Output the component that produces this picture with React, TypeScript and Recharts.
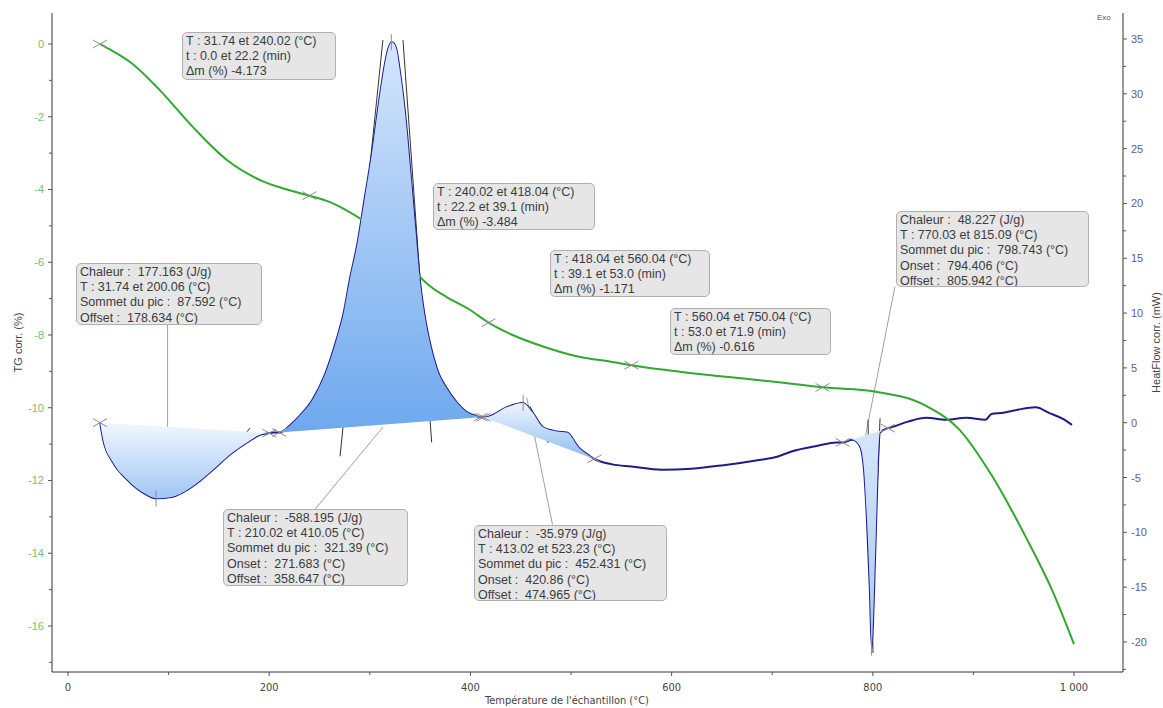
import React from "react";
import {
  ComposedChart,
  Line,
  Scatter,
  XAxis,
  YAxis,
  ReferenceLine,
} from "recharts";

// TG curve (green, left axis, %)
const tgTemp = [32, 45, 62, 91, 124, 158, 191, 215, 240, 260, 293, 310, 327, 340, 350, 362, 376, 399, 418, 442, 476, 508, 541, 560, 600, 654, 700, 750, 803, 853, 886, 918, 952, 978, 1000];
const tgMass = [0, -0.2, -0.5, -1.26, -2.28, -3.19, -3.74, -3.98, -4.17, -4.34, -4.84, -5.15, -5.58, -6.0, -6.4, -6.7, -6.95, -7.3, -7.66, -8.0, -8.35, -8.6, -8.74, -8.83, -8.98, -9.15, -9.28, -9.44, -9.56, -9.95, -10.6, -11.85, -13.55, -15.0, -16.5];

// heat flow curve (blue, right axis, mW)
const hfTemp = [32, 35, 45, 59, 75, 88, 104, 124, 144, 161, 178, 191, 200, 204, 210, 220, 230, 243, 255, 267, 274, 280, 288, 295, 302, 308, 314, 318, 322, 326, 330, 335, 340, 345, 350, 355, 360, 368, 376, 386, 396, 406, 410, 413, 418, 436, 452, 462, 472, 486, 496, 508, 515, 523, 541, 560, 590, 620, 650, 687, 705, 720, 745, 764, 770, 780, 787, 791, 794, 797, 799, 801, 803, 805, 807, 815, 819, 835, 853, 873, 893, 912, 918, 930, 945, 962, 975, 990, 998];
const hfPower = [0, -1.55, -3.65, -5.2, -6.4, -6.9, -6.75, -5.8, -4.3, -2.9, -1.8, -1.1, -0.95, -0.9, -0.9, -0.3, 0.6, 2.1, 4.3, 7.6, 10.0, 13.0, 16.5, 20.5, 24.5, 28.5, 32.2, 34.0, 34.7, 34.2, 32.0, 28.3, 23.3, 18.0, 12.8, 9.5, 7.2, 4.6, 3.2, 1.9, 1.0, 0.6, 0.5, 0.5, 0.55, 1.4, 1.8, 0.9, -0.4, -0.8, -0.9, -2.3, -2.8, -3.3, -3.8, -4.0, -4.3, -4.2, -3.9, -3.4, -3.1, -2.6, -2.1, -1.8, -1.8, -1.55, -2.1, -4.0, -8.5, -15, -20.5, -16, -10, -4, -0.9, -0.5, -0.4, 0.1, 0.45, 0.27, 0.45, 0.27, 0.8, 0.9, 1.2, 1.4, 0.9, 0.3, -0.2];

// integration windows (°C)
const peakStart = [31.74, 210.02, 413.02, 770.03];
const peakEnd = [200.06, 410.05, 523.23, 815.09];
const peakFill = ["dipFill", "peakFill", "smallFill", "spikeFill"];

// markers
const tgMarkT = [31.74, 240.02, 418.04, 560.04, 750.04];
const tgMarkV = [0, -4.17, -7.66, -8.83, -9.44];
const hfMarkT = [31.74, 200.06, 210.02, 410.05, 413.02, 523.23, 770.03, 815.09];
const hfMarkV = [0, -0.95, -0.9, 0.5, 0.5, -3.3, -1.8, -0.5];
const hfTopT = [87.59, 321.39, 452.43, 798.74];
const hfTopV = [-6.9, 34.7, 1.8, -20.5];

// leader lines (box -> peak) and tangents, heat-flow units
const leaderSegs = [
  [[99, 9.1], [99, -0.4]],
  [[246, -7.85], [313, -0.4]],
  [[481.6, -9.3], [456, 2.3]],
  [[822, 12.4], [792, -1.55]],
];
const tangentSegs = [
  [[270.4, -3.07], [313, 34.9]],
  [[361.5, -1.8], [333, 34.9]],
  [[459.2, 1.5], [477.4, -1.85]],
  [[161, -2.77], [181, -0.48]],
  [[795.2, 0.27], [800.2, -21]],
  [[807.2, 0.4], [803.5, -8]],
];

// ticks
const tempTicks = [0, 100, 200, 300, 400, 500, 600, 700, 800, 900, 1000];
const tgTicks = [0, -1, -2, -3, -4, -5, -6, -7, -8, -9, -10, -11, -12, -13, -14, -15, -16, -17];
const hfTicks = [35, 32.5, 30, 27.5, 25, 22.5, 20, 17.5, 15, 12.5, 10, 7.5, 5, 2.5, 0, -2.5, -5, -7.5, -10, -12.5, -15, -17.5, -20, -22.5];

// annotation texts
const boxTexts = [
  ["T : 31.74 et 240.02 (°C)", "t : 0.0 et 22.2 (min)", "Δm (%) -4.173"],
  ["T : 240.02 et 418.04 (°C)", "t : 22.2 et 39.1 (min)", "Δm (%) -3.484"],
  ["T : 418.04 et 560.04 (°C)", "t : 39.1 et 53.0 (min)", "Δm (%) -1.171"],
  ["T : 560.04 et 750.04 (°C)", "t : 53.0 et 71.9 (min)", "Δm (%) -0.616"],
  ["Chaleur :  177.163 (J/g)", "T : 31.74 et 200.06 (°C)", "Sommet du pic :  87.592 (°C)", "Offset :  178.634 (°C)"],
  ["Chaleur :  -588.195 (J/g)", "T : 210.02 et 410.05 (°C)", "Sommet du pic :  321.39 (°C)", "Onset :  271.683 (°C)", "Offset :  358.647 (°C)"],
  ["Chaleur :  -35.979 (J/g)", "T : 413.02 et 523.23 (°C)", "Sommet du pic :  452.431 (°C)", "Onset :  420.86 (°C)", "Offset :  474.965 (°C)"],
  ["Chaleur :  48.227 (J/g)", "T : 770.03 et 815.09 (°C)", "Sommet du pic :  798.743 (°C)", "Onset :  794.406 (°C)", "Offset :  805.942 (°C)"],
];
const boxPos = [
  [182, 32, 154, 48],
  [433, 183, 162, 47],
  [550, 250, 160, 47],
  [670, 308, 161, 47],
  [76, 263, 186, 62],
  [223, 509, 185, 77],
  [474, 525, 193, 76],
  [896, 211, 193, 76],
];

const tgData = tgTemp.map((t, i) => ({ t, v: tgMass[i] }));
const hfData = hfTemp.map((t, i) => ({ t, v: hfPower[i] }));
const fillSegs = peakStart.map((s, i) =>
  hfData.filter((d) => d.t >= s - 1 && d.t <= peakEnd[i] + 1)
);
const tgMarks = tgMarkT.map((t, i) => ({ t, v: tgMarkV[i] }));
const hfMarks = hfMarkT.map((t, i) => ({ t, v: hfMarkV[i] }));
const hfTops = hfTopT.map((t, i) => ({ t, v: hfTopV[i] }));

const sans = "'Liberation Sans', Arial, sans-serif";
const narrow = "'Liberation Sans Narrow', 'DejaVu Sans Condensed', Arial, sans-serif";

const LeftTick = ({ x, y, payload }: any) => {
  const major = payload.value % 2 === 0;
  const ax = x + 7;
  return (
    <g>
      <line x1={ax - (major ? 4 : 3)} x2={ax} y1={y} y2={y} stroke="#555" />
      {major && (
        <text x={x - 1} y={y + 4} textAnchor="end" fill="#74c070" fontSize={11} fontFamily={sans}>
          {payload.value}
        </text>
      )}
    </g>
  );
};

const RightTick = ({ x, y, payload }: any) => {
  const major = payload.value % 5 === 0;
  const ax = x - 7;
  return (
    <g>
      <line x1={ax} x2={ax + (major ? 4 : 3)} y1={y} y2={y} stroke="#555" />
      {major && (
        <text x={x + 1} y={y + 4} textAnchor="start" fill="#5c5c98" fontSize={11} fontFamily={sans}>
          {payload.value}
        </text>
      )}
    </g>
  );
};

const BottomTick = ({ x, y, payload }: any) => {
  const major = payload.value % 200 === 0;
  const ay = y - 6;
  const label = payload.value >= 1000 ? "1 000" : String(payload.value);
  return (
    <g>
      <line x1={x} x2={x} y1={ay} y2={ay + (major ? 4 : 3)} stroke="#555" />
      {major && (
        <text x={x} y={y + 13} textAnchor="middle" fill="#444" fontSize={11} fontFamily={narrow}>
          {label}
        </text>
      )}
    </g>
  );
};

const Cross = ({ cx, cy }: any) => (
  <g stroke="#8c8c8c" strokeWidth={1}>
    <line x1={cx - 7} y1={cy - 4} x2={cx + 7} y2={cy + 4} />
    <line x1={cx - 7} y1={cy + 4} x2={cx + 7} y2={cy - 4} />
  </g>
);
const VTick = ({ cx, cy }: any) => (
  <line x1={cx} x2={cx} y1={cy - 8} y2={cy + 8} stroke="#8c8c8c" />
);
const Empty = () => <g />;

const leftTitle = ({ viewBox }: any) => {
  const cx = (viewBox?.x ?? 8) + 10;
  const cy = (viewBox?.y ?? 13) + (viewBox?.height ?? 659) / 2;
  return (
    <text x={cx} y={cy} transform={`rotate(-90 ${cx} ${cy})`} textAnchor="middle" dominantBaseline="central" fontSize={11} fill="#444" fontFamily={sans}>
      TG corr. (%)
    </text>
  );
};
const rightTitle = ({ viewBox }: any) => {
  const cx = (viewBox?.x ?? 1123) + 33;
  const cy = (viewBox?.y ?? 13) + (viewBox?.height ?? 659) / 2;
  return (
    <text x={cx} y={cy} transform={`rotate(-90 ${cx} ${cy})`} textAnchor="middle" dominantBaseline="central" fontSize={11} fill="#444" fontFamily={sans}>
      HeatFlow corr. (mW)
    </text>
  );
};
const bottomTitle = ({ viewBox }: any) => {
  const cx = (viewBox?.x ?? 52) + 515;
  const cy = (viewBox?.y ?? 672) + 32;
  return (
    <text x={cx} y={cy} textAnchor="middle" fontSize={11} fill="#444" fontFamily={narrow}>
      Température de l'échantillon (°C)
    </text>
  );
};

export default function App() {
  return (
    <div style={{ position: "absolute", left: 0, top: 0, width: 1163, height: 708, background: "#fff" }}>
      <ComposedChart width={1163} height={708} margin={{ top: 13, right: 4, bottom: 6, left: 8 }}>
        <defs>
          <linearGradient id="dipFill" x1="0" y1="0" x2="0" y2="1">
            <stop offset="0%" stopColor="#f2f7fe" />
            <stop offset="100%" stopColor="#a0c6f3" />
          </linearGradient>
          <linearGradient id="peakFill" x1="0" y1="0" x2="0" y2="1">
            <stop offset="0%" stopColor="#d4e6fb" />
            <stop offset="100%" stopColor="#6ea8ee" />
          </linearGradient>
          <linearGradient id="smallFill" x1="0" y1="0" x2="0" y2="1">
            <stop offset="0%" stopColor="#eef5fd" />
            <stop offset="100%" stopColor="#8fbdf1" />
          </linearGradient>
          <linearGradient id="spikeFill" x1="0" y1="0" x2="0" y2="1">
            <stop offset="0%" stopColor="#d6e6fa" />
            <stop offset="100%" stopColor="#a8c9f2" />
          </linearGradient>
        </defs>
        <XAxis
          dataKey="t"
          type="number"
          domain={[-15.9, 1048.7]}
          allowDataOverflow
          ticks={tempTicks}
          interval={0}
          height={30}
          tickSize={4}
          tickMargin={2}
          tickLine={false}
          tick={(p: any) => <BottomTick {...p} />}
          stroke="#333"
          label={{ content: bottomTitle }}
        />
        <YAxis
          yAxisId="tg"
          orientation="left"
          type="number"
          domain={[-17.265, 0.852]}
          allowDataOverflow
          ticks={tgTicks}
          interval={0}
          width={44}
          tickSize={4}
          tickMargin={3}
          tickLine={false}
          tick={(p: any) => <LeftTick {...p} />}
          stroke="#333"
          label={{ content: leftTitle }}
        />
        <YAxis
          yAxisId="hf"
          orientation="right"
          type="number"
          domain={[-22.74, 37.37]}
          allowDataOverflow
          ticks={hfTicks}
          interval={0}
          width={36}
          tickSize={4}
          tickMargin={3}
          tickLine={false}
          tick={(p: any) => <RightTick {...p} />}
          stroke="#333"
          label={{ content: rightTitle }}
        />
        {fillSegs.map((seg, i) => (
          <Scatter
            key={"fill" + i}
            data={seg}
            dataKey="v"
            yAxisId="hf"
            line={{ fill: `url(#${peakFill[i]})`, stroke: "none" }}
            lineJointType="monotoneX"
            shape={Empty}
            isAnimationActive={false}
          />
        ))}
        {leaderSegs.map((s, i) => (
          <ReferenceLine
            key={"lead" + i}
            yAxisId="hf"
            segment={[{ x: s[0][0], y: s[0][1] }, { x: s[1][0], y: s[1][1] }]}
            stroke="#a0a0a0"
            strokeWidth={1}
          />
        ))}
        {tangentSegs.map((s, i) => (
          <ReferenceLine
            key={"tan" + i}
            yAxisId="hf"
            segment={[{ x: s[0][0], y: s[0][1] }, { x: s[1][0], y: s[1][1] }]}
            stroke="#333"
            strokeWidth={1}
          />
        ))}
        <Line
          data={hfData}
          dataKey="v"
          yAxisId="hf"
          type="monotone"
          stroke="#1c1c8c"
          strokeWidth={2}
          dot={false}
          isAnimationActive={false}
        />
        <Line
          data={tgData}
          dataKey="v"
          yAxisId="tg"
          type="monotone"
          stroke="#2eaa2e"
          strokeWidth={2}
          dot={false}
          isAnimationActive={false}
        />
        <Scatter data={tgMarks} dataKey="v" yAxisId="tg" shape={Cross} isAnimationActive={false} />
        <Scatter data={hfMarks} dataKey="v" yAxisId="hf" shape={Cross} isAnimationActive={false} />
        <Scatter data={hfTops} dataKey="v" yAxisId="hf" shape={VTick} isAnimationActive={false} />
      </ComposedChart>
      {boxTexts.map((lines, i) => (
        <div
          key={i}
          style={{
            position: "absolute",
            left: boxPos[i][0],
            top: boxPos[i][1],
            width: boxPos[i][2],
            height: boxPos[i][3],
            boxSizing: "border-box",
            background: "#e6e6e6",
            border: "1px solid #b0b0b0",
            borderRadius: 5,
            padding: "1px 0 0 3px",
            fontFamily: sans,
            fontSize: 12.5,
            lineHeight: "15.2px",
            color: "#3c3c3c",
            whiteSpace: "pre",
            overflow: "hidden",
          }}
        >
          {lines.map((l, j) => (
            <div key={j}>{l}</div>
          ))}
        </div>
      ))}
      <div style={{ position: "absolute", left: 1097, top: 13, fontFamily: sans, fontSize: 8, color: "#555" }}>
        Exo
      </div>
    </div>
  );
}
